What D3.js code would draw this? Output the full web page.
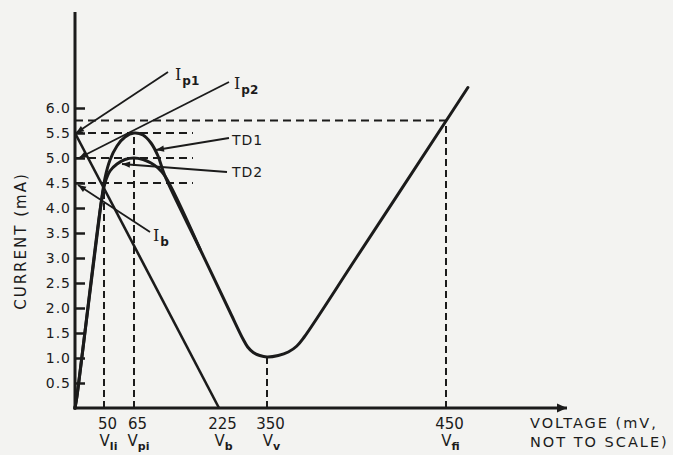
<!DOCTYPE html>
<html>
<head>
<meta charset="utf-8">
<script src="https://cdn.jsdelivr.net/npm/d3@7"></script>
<style>
  html, body { margin: 0; padding: 0; background: #f3f3f1; }
  svg { display: block; }
</style>
</head>
<body>
<script>
// ---------------- DATA ----------------
const xTickValues = [50, 65, 225, 350, 450];
const xTickSymbols = ["li", "pi", "b", "v", "fi"];
const yTickValues = [0.5, 1.0, 1.5, 2.0, 2.5, 3.0, 3.5, 4.0, 4.5, 5.0, 5.5, 6.0];

// TD1 characteristic (mV, mA)
const td1Voltage = [0, 3.45, 44.8, 50.5, 53, 56.5, 60.5, 65, 81.9, 97, 110.2, 123.3, 189.2, 253.6, 287.5, 299.7, 314.3, 331, 350, 356.3, 361.9, 366.7, 370.8, 400, 450, 462.3];
const td1Current = [0, 0.24, 4.08, 4.6, 4.96, 5.24, 5.42, 5.5, 5.46, 5.3, 5.04, 4.64, 3.18, 1.92, 1.38, 1.22, 1.11, 1.05, 1.02, 1.05, 1.12, 1.24, 1.42, 3.01, 5.74, 6.41];

// TD2 characteristic (mV, mA)
const td2Voltage = [0, 3.45, 44.8, 50.5, 53, 56.5, 60.5, 65, 81.9, 97, 110.2, 123.3, 189.2];
const td2Current = [0, 0.24, 4.08, 4.5, 4.74, 4.88, 4.97, 5.0, 4.97, 4.9, 4.8, 4.64, 3.18];

// load line
const loadVoltage = [0, 225];
const loadCurrent = [5.5, 0];

// dashed guide lines
const guideLevels = [5.75, 5.5, 5.0, 4.5];
const guideLevelEnds = [450, 176, 176, 176];
const guideVoltages = [50, 65, 350, 450];
const guideVoltageTops = [4.5, 5.5, 1.0, 5.75];

// pointer annotations: main text, subscript, target (mV, mA)
const pointerNames = ["I", "I", "TD1", "TD2", "I"];
const pointerSubs = ["p1", "p2", "", "", "b"];
const pointerTargetV = [0, 0, 104.5, 59, 0];
const pointerTargetI = [5.5, 5.0, 5.16, 4.88, 4.5];

// ---------------- LAYOUT ----------------
const W = 673, H = 455;
const ink = "#1b1b1b";
const svg = d3.select("body").append("svg").attr("width", W).attr("height", H);
svg.append("rect").attr("width", W).attr("height", H).attr("fill", "#f3f3f1");

// voltage axis is "not to scale": piecewise-linear scale
const x = d3.scaleLinear()
  .domain([0, 50, 65, 225, 350, 450, 518])
  .range([75, 104, 134, 219, 267, 446, 567]);
const y = d3.scaleLinear().domain([0, 6]).range([408, 108]);

const defs = svg.append("defs");
defs.append("marker").attr("id", "arr")
  .attr("markerUnits", "userSpaceOnUse")
  .attr("viewBox", "0 -5 10 10").attr("refX", 10).attr("refY", 0)
  .attr("markerWidth", 11).attr("markerHeight", 8).attr("orient", "auto")
  .append("path").attr("d", "M0,-4L10,0L0,4Z").attr("fill", ink);
defs.append("marker").attr("id", "axarr")
  .attr("markerUnits", "userSpaceOnUse")
  .attr("viewBox", "0 -5 10 10").attr("refX", 10).attr("refY", 0)
  .attr("markerWidth", 13).attr("markerHeight", 10).attr("orient", "auto")
  .append("path").attr("d", "M0,-4.5L10,0L0,4.5Z").attr("fill", ink);

// dashed guides
const gGuide = svg.append("g").attr("stroke", ink).attr("stroke-width", 2)
  .attr("stroke-dasharray", "8,5").attr("fill", "none");
guideLevels.forEach((lv, i) => {
  gGuide.append("line")
    .attr("x1", x(0)).attr("x2", x(guideLevelEnds[i]))
    .attr("y1", y(lv)).attr("y2", y(lv));
});
guideVoltages.forEach((v, i) => {
  gGuide.append("line")
    .attr("x1", x(v)).attr("x2", x(v))
    .attr("y1", y(0)).attr("y2", y(guideVoltageTops[i]))
    .attr("stroke-dasharray", "7,4");
});

// curves
const line = d3.line().x(d => x(d[0])).y(d => y(d[1])).curve(d3.curveCatmullRom.alpha(0.5));
svg.append("path").datum(d3.zip(td1Voltage, td1Current))
  .attr("d", line).attr("fill", "none").attr("stroke", ink).attr("stroke-width", 3)
  .attr("stroke-linejoin", "round").attr("stroke-linecap", "round");
svg.append("path").datum(d3.zip(td2Voltage, td2Current))
  .attr("d", line).attr("fill", "none").attr("stroke", ink).attr("stroke-width", 3)
  .attr("stroke-linejoin", "round").attr("stroke-linecap", "round");
svg.append("path").datum(d3.zip(loadVoltage, loadCurrent))
  .attr("d", d3.line().x(d => x(d[0])).y(d => y(d[1])))
  .attr("fill", "none").attr("stroke", ink).attr("stroke-width", 2.6);

// axes lines
svg.append("line").attr("x1", x(0)).attr("x2", x(0))
  .attr("y1", y(0) + 1.5).attr("y2", y(7.92))
  .attr("stroke", ink).attr("stroke-width", 3);
svg.append("line").attr("x1", x(0) - 1.5).attr("x2", x(518))
  .attr("y1", y(0)).attr("y2", y(0))
  .attr("stroke", ink).attr("stroke-width", 3).attr("marker-end", "url(#axarr)");

// y axis ticks + labels
const yAxis = d3.axisLeft(y).tickValues(yTickValues).tickSize(-10).tickPadding(4)
  .tickFormat(d3.format(".1f"));
const gy = svg.append("g").attr("transform", `translate(${x(0)},0)`).call(yAxis);
gy.select(".domain").remove();
gy.selectAll(".tick line").attr("stroke", ink).attr("stroke-width", 2.5);
gy.selectAll(".tick text").attr("fill", ink)
  .style("font-family", "'DejaVu Sans', sans-serif").style("font-size", "14px")
  .style("letter-spacing", "1px");

// x axis labels
const xAxis = d3.axisBottom(x).tickValues(xTickValues).tickSize(0).tickPadding(10)
  .tickFormat(d3.format("d"));
const gx = svg.append("g").attr("transform", `translate(0,${y(0)})`).call(xAxis);
gx.select(".domain").remove();
gx.selectAll(".tick text").attr("fill", ink).attr("dx", 3)
  .style("font-family", "'DejaVu Sans', sans-serif").style("font-size", "15px");
gx.selectAll(".tick").each(function(d, i) {
  const t = d3.select(this).append("text")
    .attr("x", 4).attr("y", 38).attr("text-anchor", "middle").attr("fill", ink)
    .style("font-family", "'DejaVu Sans', sans-serif").style("font-size", "15px");
  t.append("tspan").text("V");
  t.append("tspan").attr("dy", 4).style("font-size", "11px").style("font-weight", "bold")
    .text(xTickSymbols[i]);
});

// axis titles
svg.append("text").attr("transform", "translate(26,241) rotate(-90)")
  .attr("text-anchor", "middle").attr("fill", ink)
  .style("font-family", "'DejaVu Sans', sans-serif").style("font-size", "15px")
  .style("letter-spacing", "2px").text("CURRENT (mA)");
const xt = svg.append("text").attr("fill", ink)
  .style("font-family", "'DejaVu Sans', sans-serif").style("font-size", "14.5px")
  .style("letter-spacing", "2px");
xt.append("tspan").attr("x", 530).attr("y", 428).text("VOLTAGE (mV,");
xt.append("tspan").attr("x", 530).attr("y", 447).text("NOT TO SCALE)");

// pointer annotations (layout offsets in px from target)
const pointerLayout = [
  { tip: [1, 0], start: [93, -61], lx: 100, ly: -53 },
  { tip: [4, 0], start: [154, -76], lx: 159, ly: -69 },
  { tip: [1, 0], start: [74, -12], lx: 77, ly: -5 },
  { tip: [0, 0], start: [105, 8], lx: 110, ly: 13 },
  { tip: [3, 2], start: [75, 49], lx: 78, ly: 58 }
];
pointerNames.forEach((name, i) => {
  const tx = x(pointerTargetV[i]), ty = y(pointerTargetI[i]);
  const L = pointerLayout[i];
  svg.append("line")
    .attr("x1", tx + L.start[0]).attr("y1", ty + L.start[1])
    .attr("x2", tx + L.tip[0]).attr("y2", ty + L.tip[1])
    .attr("stroke", ink).attr("stroke-width", 1.8).attr("marker-end", "url(#arr)");
  const t = svg.append("text").attr("x", tx + L.lx).attr("y", ty + L.ly).attr("fill", ink);
  if (pointerSubs[i]) {
    t.append("tspan").text(name)
      .style("font-family", "'DejaVu Serif', serif").style("font-size", "16px");
    t.append("tspan").attr("dx", 1).attr("dy", 5).text(pointerSubs[i])
      .style("font-family", "'DejaVu Sans', sans-serif").style("font-size", "12px")
      .style("font-weight", "bold");
  } else {
    t.text(name).style("font-family", "'DejaVu Sans', sans-serif")
      .style("font-size", "14px").style("letter-spacing", "1px");
  }
});
</script>
</body>
</html>
